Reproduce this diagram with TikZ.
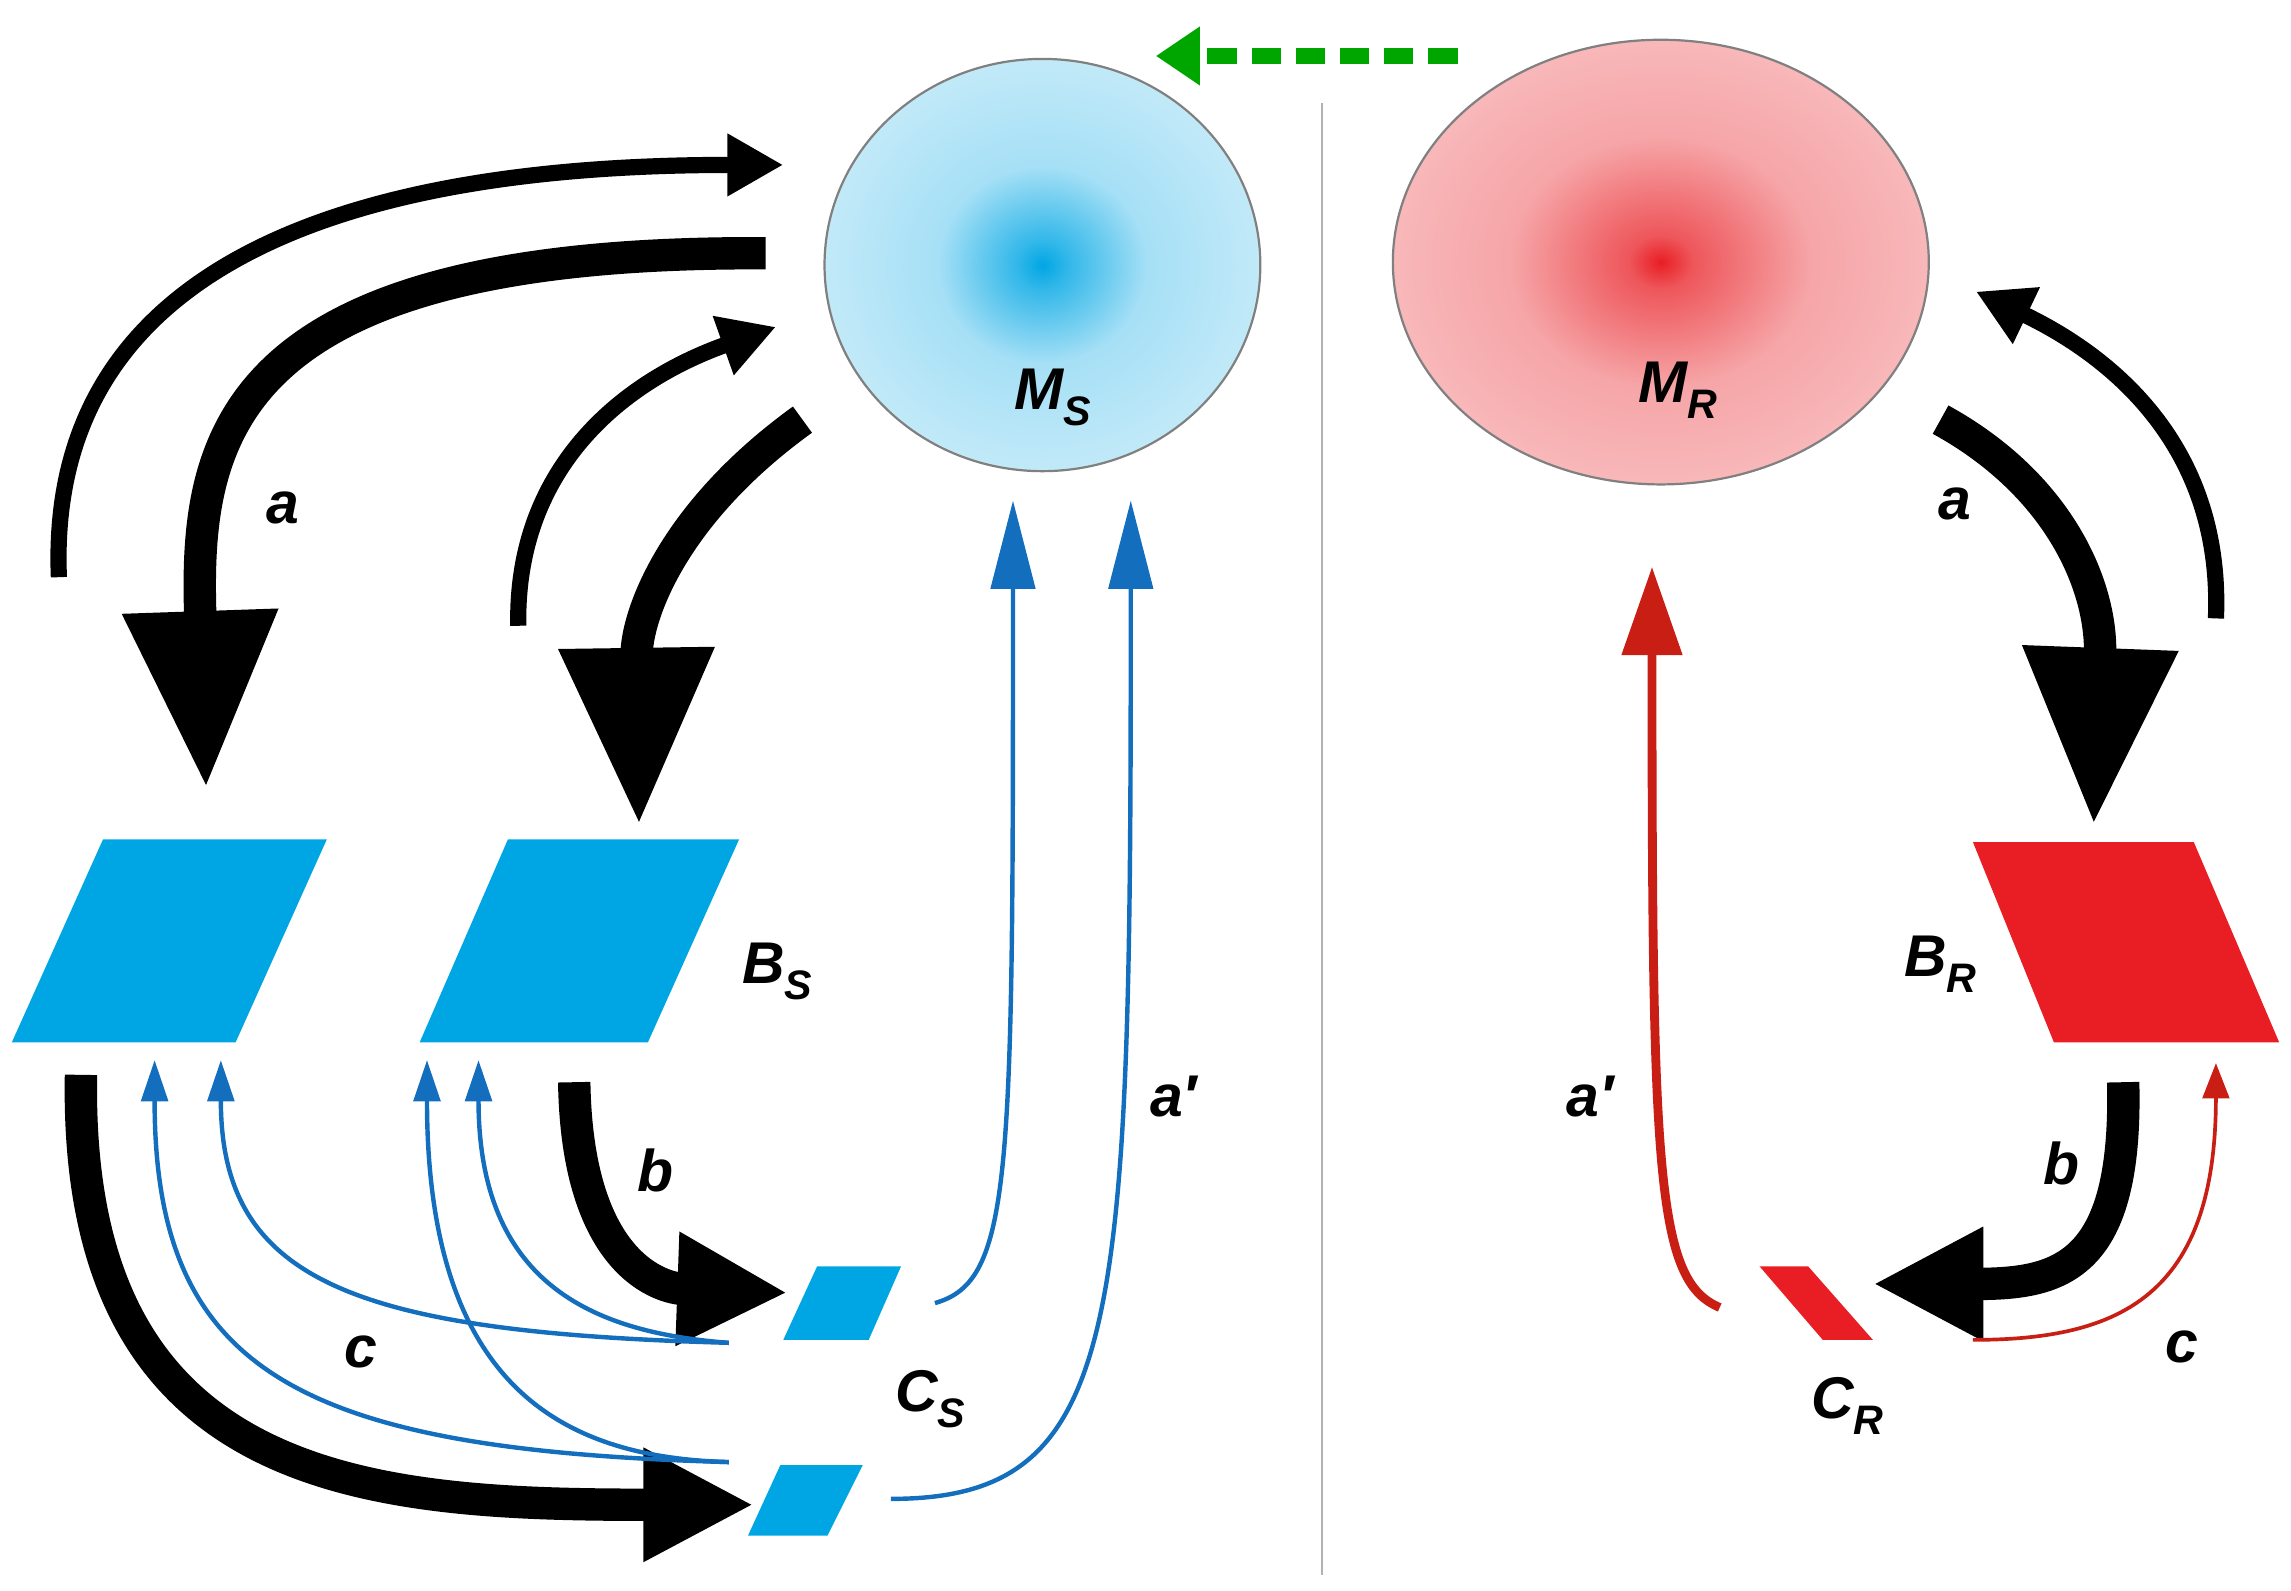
\documentclass[tikz,border=0pt]{standalone}
\usepackage{fontspec}
\setmainfont{Liberation Sans}
\usetikzlibrary{arrows.meta}
\definecolor{sb}{RGB}{0,166,228}
\definecolor{sr}{RGB}{232,30,36}
\definecolor{ln}{RGB}{20,110,190}
\definecolor{lr}{RGB}{200,30,20}
\pgfdeclareradialshading{msh}{\pgfpoint{0bp}{0bp}}{color(0bp)=(sb);color(3bp)=(sb!80!white);color(12bp)=(sb!35!white);color(30bp)=(sb!20!white);color(50bp)=(sb!12!white)}
\pgfdeclareradialshading{mrh}{\pgfpoint{0bp}{0bp}}{color(0bp)=(sr);color(3bp)=(sr!75!white);color(14bp)=(sr!40!white);color(30bp)=(sr!28!white);color(50bp)=(sr!15!white)}
\begin{document}
\begin{tikzpicture}[x=1pt,y=-1pt,
 lab/.style={font=\fontsize{40}{44}\selectfont\itshape\bfseries},
 big/.style={line width=22pt,-{Triangle[length=120pt,width=100pt]}},
 thn/.style={line width=11pt,-{Triangle[length=38pt,width=40pt]}},
 bl/.style={ln,line width=3pt,-{Triangle[length=28pt,width=18pt]}},
 blb/.style={ln,line width=3pt,-{Triangle[length=60pt,width=30pt]}}]
\useasboundingbox (0,0) rectangle (1556,1080);
\draw[gray!60,line width=1.5pt] (898,70) -- (898,1070);
\draw[green!65!black,line width=11pt,dash pattern=on 20pt off 10pt,-{Triangle[length=30pt,width=38pt]}] (990,38) -- (785,38);
\draw[gray,line width=1.5pt,shading=msh] (708,180) ellipse [x radius=148pt,y radius=140pt];
\draw[gray,line width=1.5pt,shading=mrh] (1128,178) ellipse [x radius=182pt,y radius=151pt];
\node[lab] (ms) at (715,270) {M\textsubscript{S}};
\node[lab] (mr) at (1140,265) {M\textsubscript{R}};
% parallelograms
\fill[sb] (8,708)--(70,570)--(222,570)--(160,708)--cycle;
\fill[sb] (285,708)--(345,570)--(502,570)--(440,708)--cycle;
\fill[sb] (532,910)--(555,860)--(612,860)--(590,910)--cycle;
\fill[sb] (508,1043)--(530,995)--(586,995)--(562,1043)--cycle;
\fill[sr] (1340,572)--(1490,572)--(1548,708)--(1395,708)--cycle;
\fill[sr] (1195,860)--(1228,860)--(1272,910)--(1238,910)--cycle;
\node[lab] at (528,660) {B\textsubscript{S}};
\node[lab] at (632,950) {C\textsubscript{S}};
\node[lab] at (1318,655) {B\textsubscript{R}};
\node[lab] at (1255,955) {C\textsubscript{R}};
% black arrows
\draw[thn] (40,392) .. controls (30,150) and (300,112) .. (532,112);
\draw[big] (520,172) .. controls (150,170) and (132,300) .. (140,535);
\draw[thn] (352,425) .. controls (350,320) and (420,260) .. (527,222);
\draw[big] (545,285) .. controls (455,350) and (432,420) .. (434,560);
\draw[line width=22pt,-{Triangle[length=75pt,width=72pt]}] (390,735) .. controls (392,860) and (450,875) .. (535,878);
\draw[line width=22pt,-{Triangle[length=75pt,width=72pt]}] (55,730) .. controls (50,1010) and (250,1022) .. (512,1022);
\draw[big] (1318,285) .. controls (1400,330) and (1428,400) .. (1422,560);
\draw[thn] (1505,420) .. controls (1510,300) and (1430,240) .. (1342,198);
\draw[line width=22pt,-{Triangle[length=75pt,width=72pt]}] (1442,735) .. controls (1445,860) and (1400,872) .. (1272,872);
\node[lab] at (192,345) {a};
\node[lab] at (1328,342) {a};
\node[lab] at (445,795) {b};
\node[lab] at (1400,790) {b};
\node[lab] at (245,918) {c};
\node[lab] at (1482,915) {c};
\node[lab] at (797,745) {a′};
\node[lab] at (1080,745) {a′};
% blue arrows
\draw[blb] (635,885) .. controls (688,870) and (688,800) .. (688,340);
\draw[blb] (605,1018) .. controls (765,1018) and (768,900) .. (768,340);
\draw[bl] (495,912) .. controls (240,905) and (150,870) .. (150,720);
\draw[bl] (495,912) .. controls (400,905) and (325,870) .. (325,720);
\draw[bl] (495,993) .. controls (200,985) and (105,930) .. (105,720);
\draw[bl] (495,993) .. controls (380,990) and (290,940) .. (290,720);
% red arrows
\draw[lr,line width=6pt,-{Triangle[length=60pt,width=40pt]}] (1168,888) .. controls (1125,870) and (1122,800) .. (1122,385);
\draw[lr,line width=2.5pt,-{Triangle[length=24pt,width=18pt]}] (1340,910) .. controls (1440,910) and (1505,880) .. (1505,722);
\end{tikzpicture}
\end{document}
